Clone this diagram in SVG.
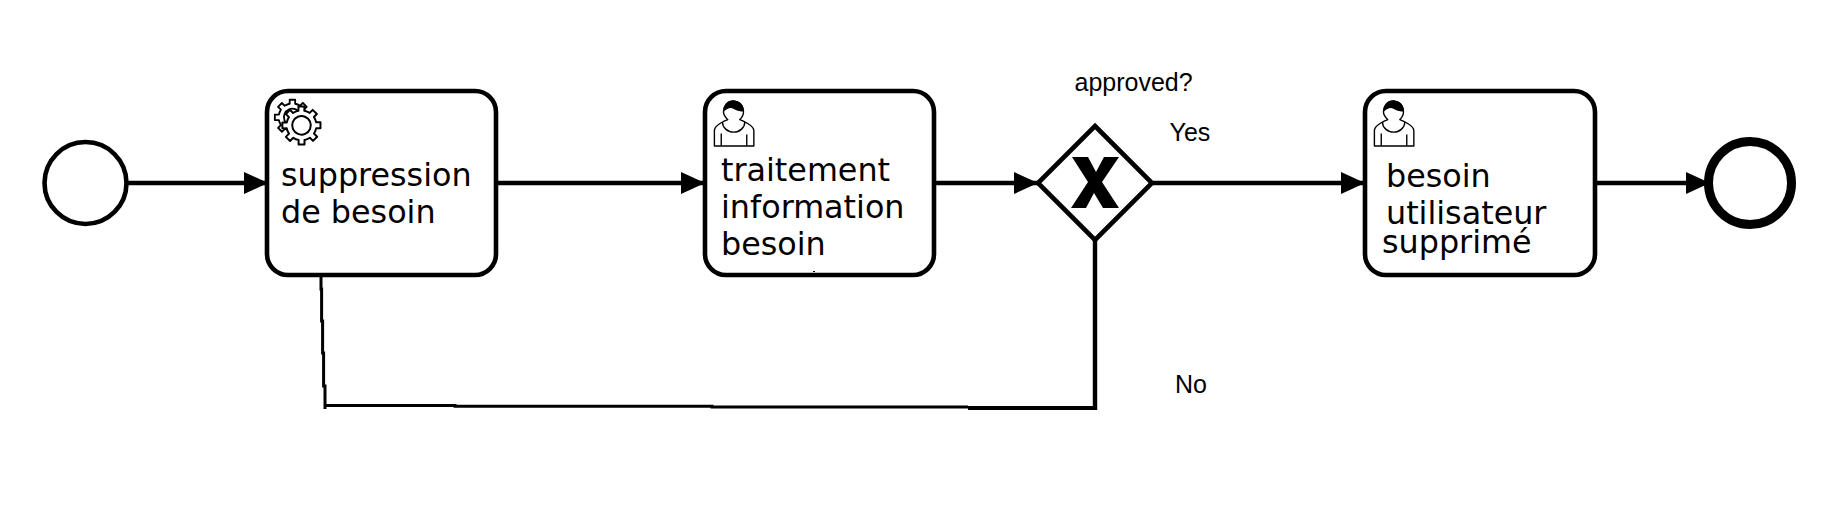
<svg xmlns="http://www.w3.org/2000/svg" width="1848" height="520" viewBox="0 0 1848 520">
<style>
.task{fill:#fff;stroke:#000;stroke-width:4.6}
.lbl{font-family:"DejaVu Sans",sans-serif;font-size:31.8px;fill:#000}
.cap{font-family:"Liberation Sans",Arial,sans-serif;font-size:25px;fill:#000}
.flow{fill:none;stroke:#000;stroke-width:4.4;marker-end:url(#arrow)}
.line{fill:none;stroke:#000;stroke-width:3}
.ico{fill:#fff;stroke:#000;stroke-width:.6;stroke-linejoin:round}
.gearico{fill:#fff;stroke:#000;stroke-width:.75;stroke-linejoin:round}
</style>
<defs>
<marker id="arrow" markerUnits="userSpaceOnUse" markerWidth="24" markerHeight="24" refX="24" refY="12" orient="auto">
<path d="M0,1 L24,12 L0,23 Z" fill="#000"/>
</marker>
<g id="user">
<path class="ico" d="m0,0 c0.909,-0.845 1.594,-2.049 1.594,-3.385 0,-2.554 -1.805,-4.622 -4.357,-4.622 -2.552,0 -4.288,2.068 -4.288,4.622 0,1.348 0.974,2.562 1.896,3.405 -0.529,0.187 -5.669,2.097 -5.794,4.756 v6.718 h17 v-6.718 c0,-2.298 -5.528,-4.595 -6.051,-4.776 z m-8,6 l0,5.5 m11,0 l0,-5"/>
<path class="ico" d="m2.162,1.009 c0,2.447 -2.158,4.431 -4.821,4.431 -2.665,0 -4.822,-1.981 -4.822,-4.431" style="fill:none"/>
<path d="m-6.9,-3.8 c0,0 2.251,-2.358 4.274,-1.177 2.024,1.181 4.221,1.537 4.124,0.965 -0.098,-0.57 -0.117,-3.791 -4.191,-4.136 -3.575,0.001 -4.208,3.367 -4.207,4.348 z" fill="#000" stroke="#000" stroke-width=".5"/>
</g>
<path id="gear" class="gearico" d="m0,0 v-1.71335 c0.352326,-0.0705 0.703932,-0.17838 1.047628,-0.32133 0.344416,-0.14465 0.665822,-0.32133 0.966377,-0.52145 l1.19431,1.18005 1.567487,-1.57688 -1.195028,-1.18014 c0.403376,-0.61394 0.683079,-1.29908 0.825447,-2.01824 l1.622133,-0.01 v-2.2196 l-1.636514,0.01 c-0.07333,-0.35153 -0.178319,-0.70024 -0.323564,-1.04372 -0.145244,-0.34406 -0.321407,-0.6644 -0.522735,-0.96217 l1.131035,-1.13631 -1.583305,-1.56293 -1.129598,1.13589 c-0.614052,-0.40108 -1.302883,-0.68093 -2.022633,-0.82247 l0.0093,-1.61852 h-2.241173 l0.0042,1.63124 c-0.353763,0.0736 -0.705369,0.17977 -1.049785,0.32371 -0.344415,0.14437 -0.665102,0.32092 -0.9635006,0.52046 l-1.1698628,-1.15823 -1.5667691,1.5792 1.1684265,1.15669 c-0.4026573,0.61283 -0.68308,1.29797 -0.8247287,2.01713 l-1.6588041,0.003 v2.22174 l1.6724648,-0.006 c0.073327,0.35077 0.1797598,0.70243 0.3242851,1.04472 0.1452428,0.34448 0.3214064,0.6644 0.5227339,0.96066 l-1.1993431,1.19723 1.5840256,1.56011 1.1964668,-1.19348 c0.6140517,0.40346 1.3028827,0.68232 2.0233517,0.82331 l0.000719,1.69892 h2.226848 z m0.221462,-3.9957 c-1.788948,0.7502 -3.8576,-0.0928 -4.6097055,-1.87438 -0.7521065,-1.78321 0.090598,-3.84627 1.8802645,-4.59604 1.78823,-0.74936 3.856881,0.0929 4.608987,1.87437 0.752106,1.78165 -0.0906,3.84612 -1.879546,4.59605 z"/>
</defs>
<rect width="1848" height="520" fill="#fff"/>
<g id="connectors">
<line class="flow" x1="128" y1="183" x2="268" y2="183"/>
<line class="flow" x1="496" y1="183" x2="705" y2="183"/>
<line class="flow" x1="934" y1="183" x2="1038" y2="183"/>
<line class="flow" x1="1153" y1="183" x2="1365" y2="183"/>
<line class="flow" x1="1596" y1="183" x2="1710" y2="183"/>
<path class="line" d="M321,277 V289 H321.6 V321 H322.6 V353 H323.6 V386 H325 V409"/>
<path class="line" d="M325,405.5 H455 V406.2 H712 V407 H968"/>
<path fill="none" stroke="#000" stroke-width="4.4" d="M1095,240 V410"/>
<path fill="none" stroke="#000" stroke-width="4" d="M968,408 H1097"/>
</g>
<g id="start"><circle cx="85.5" cy="183" r="41" fill="#fff" stroke="#000" stroke-width="4.6"/></g>
<g id="task-suppression">
<rect class="task" x="267" y="91" width="229" height="184" rx="21"/>
<use href="#gear" transform="translate(295.3,135) scale(2.45)"/>
<circle cx="301.5" cy="125" r="9" fill="#fff"/>
<use href="#gear" transform="translate(304.5,144.5) scale(2.65)"/>
<text class="lbl" x="281" y="186">suppression</text>
<text class="lbl" x="281" y="223">de besoin</text>
</g>
<g id="task-traitement">
<rect class="task" x="705" y="91" width="229" height="184" rx="21"/>
<use href="#user" transform="translate(739.8,119.6) scale(2.32,2.3)"/>
<text class="lbl" x="721" y="181">traitement</text>
<text class="lbl" x="721" y="218">information</text>
<text class="lbl" x="721" y="255">besoin</text>
<rect x="813" y="271" width="2" height="1" fill="#000"/>
</g>
<g id="gateway">
<polygon points="1095,126 1152,183 1095,240 1038,183" fill="#fff" stroke="#000" stroke-width="4.6"/>
<path d="M1072,157 H1088 L1096,172 L1104,157 H1119 L1102,182 L1119,208 H1103 L1094,193 L1086,208 H1071 L1088,182 Z" fill="#000"/>
</g>
<g id="task-besoin">
<rect class="task" x="1365" y="91" width="230" height="184" rx="21"/>
<use href="#user" transform="translate(1399.8,119.6) scale(2.32,2.3)"/>
<text class="lbl" x="1386" y="187">besoin</text>
<text class="lbl" x="1386" y="224">utilisateur</text>
<text class="lbl" x="1382" y="253">supprimé</text>
</g>
<g id="end"><circle cx="1750" cy="183" r="41.5" fill="#fff" stroke="#000" stroke-width="9"/></g>
<g id="labels">
<text class="cap" x="1074.5" y="91">approved?</text>
<text class="cap" x="1169.5" y="141">Yes</text>
<text class="cap" x="1175" y="393">No</text>
</g>
</svg>
